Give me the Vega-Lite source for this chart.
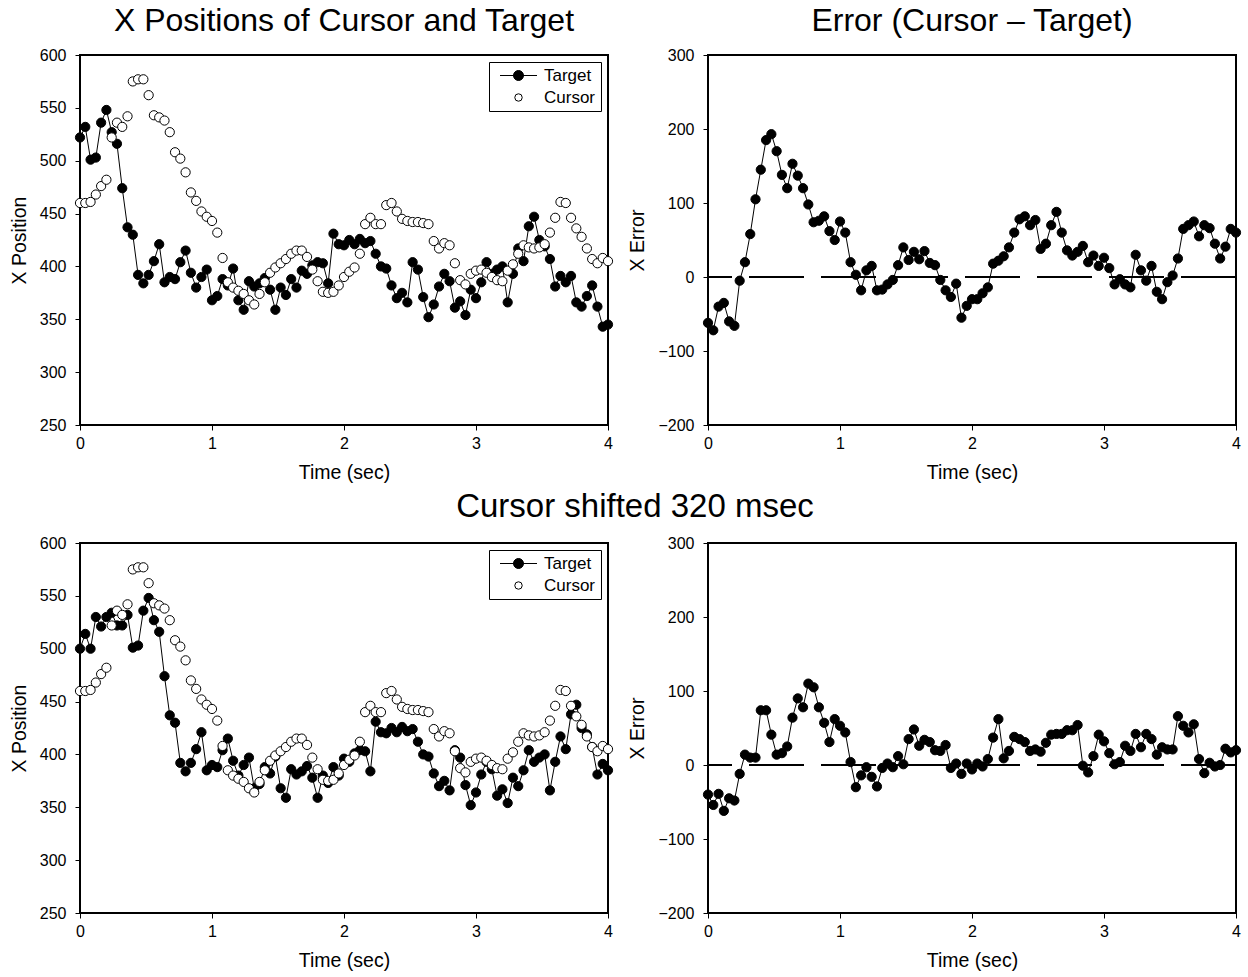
{
  "$schema": "https://vega.github.io/schema/vega-lite/v6.json",
  "padding": {"left": 8, "top": 4, "right": 5, "bottom": 5},
  "background": "white",
  "datasets": {
    "top": [
      {"t":0,"Target":522,"Cursor":460,"err":-62},{"t":0.04,"Target":532,"Cursor":460,"err":-72},{"t":0.08,"Target":501,"Cursor":461,"err":-40},{"t":0.12,"Target":503,"Cursor":468,"err":-35},{"t":0.16,"Target":536,"Cursor":476,"err":-60},{"t":0.2,"Target":548,"Cursor":482,"err":-66},{"t":0.24,"Target":527,"Cursor":522,"err":-5},{"t":0.28,"Target":516,"Cursor":536,"err":20},{"t":0.32,"Target":474,"Cursor":532,"err":58},{"t":0.36,"Target":437,"Cursor":542,"err":105},
      {"t":0.4,"Target":430,"Cursor":575,"err":145},{"t":0.44,"Target":392,"Cursor":577,"err":185},{"t":0.48,"Target":384,"Cursor":577,"err":193},{"t":0.52,"Target":392,"Cursor":562,"err":170},{"t":0.56,"Target":405,"Cursor":543,"err":138},{"t":0.6,"Target":421,"Cursor":541,"err":120},{"t":0.64,"Target":385,"Cursor":538,"err":153},{"t":0.68,"Target":390,"Cursor":527,"err":137},{"t":0.72,"Target":388,"Cursor":508,"err":120},{"t":0.76,"Target":404,"Cursor":502,"err":98},
      {"t":0.8,"Target":415,"Cursor":489,"err":74},{"t":0.84,"Target":394,"Cursor":470,"err":76},{"t":0.88,"Target":380,"Cursor":462,"err":82},{"t":0.92,"Target":390,"Cursor":452,"err":62},{"t":0.96,"Target":397,"Cursor":447,"err":50},{"t":1,"Target":368,"Cursor":443,"err":75},{"t":1.04,"Target":372,"Cursor":432,"err":60},{"t":1.08,"Target":388,"Cursor":408,"err":20},{"t":1.12,"Target":382,"Cursor":385,"err":3},{"t":1.16,"Target":398,"Cursor":380,"err":-18},
      {"t":1.2,"Target":368,"Cursor":377,"err":9},{"t":1.24,"Target":359,"Cursor":374,"err":15},{"t":1.28,"Target":386,"Cursor":368,"err":-18},{"t":1.32,"Target":381,"Cursor":364,"err":-17},{"t":1.36,"Target":384,"Cursor":374,"err":-10},{"t":1.4,"Target":389,"Cursor":385,"err":-4},{"t":1.44,"Target":378,"Cursor":394,"err":16},{"t":1.48,"Target":359,"Cursor":399,"err":40},{"t":1.52,"Target":380,"Cursor":403,"err":23},{"t":1.56,"Target":373,"Cursor":407,"err":34},
      {"t":1.6,"Target":388,"Cursor":412,"err":24},{"t":1.64,"Target":380,"Cursor":415,"err":35},{"t":1.68,"Target":396,"Cursor":415,"err":19},{"t":1.72,"Target":393,"Cursor":409,"err":16},{"t":1.76,"Target":401,"Cursor":397,"err":-4},{"t":1.8,"Target":404,"Cursor":386,"err":-18},{"t":1.84,"Target":403,"Cursor":376,"err":-27},{"t":1.88,"Target":384,"Cursor":375,"err":-9},{"t":1.92,"Target":431,"Cursor":376,"err":-55},{"t":1.96,"Target":421,"Cursor":382,"err":-39},
      {"t":2,"Target":420,"Cursor":390,"err":-30},{"t":2.04,"Target":425,"Cursor":395,"err":-30},{"t":2.08,"Target":421,"Cursor":399,"err":-22},{"t":2.12,"Target":426,"Cursor":412,"err":-14},{"t":2.16,"Target":422,"Cursor":440,"err":18},{"t":2.2,"Target":424,"Cursor":446,"err":22},{"t":2.24,"Target":412,"Cursor":440,"err":28},{"t":2.28,"Target":400,"Cursor":440,"err":40},{"t":2.32,"Target":398,"Cursor":458,"err":60},{"t":2.36,"Target":382,"Cursor":460,"err":78},
      {"t":2.4,"Target":370,"Cursor":452,"err":82},{"t":2.44,"Target":375,"Cursor":445,"err":70},{"t":2.48,"Target":366,"Cursor":443,"err":77},{"t":2.52,"Target":404,"Cursor":442,"err":38},{"t":2.56,"Target":397,"Cursor":442,"err":45},{"t":2.6,"Target":371,"Cursor":441,"err":70},{"t":2.64,"Target":352,"Cursor":440,"err":88},{"t":2.68,"Target":364,"Cursor":424,"err":60},{"t":2.72,"Target":381,"Cursor":417,"err":36},{"t":2.76,"Target":393,"Cursor":422,"err":29},
      {"t":2.8,"Target":386,"Cursor":420,"err":34},{"t":2.84,"Target":361,"Cursor":403,"err":42},{"t":2.88,"Target":367,"Cursor":387,"err":20},{"t":2.92,"Target":354,"Cursor":383,"err":29},{"t":2.96,"Target":378,"Cursor":393,"err":15},{"t":3,"Target":370,"Cursor":396,"err":26},{"t":3.04,"Target":385,"Cursor":397,"err":12},{"t":3.08,"Target":404,"Cursor":394,"err":-10},{"t":3.12,"Target":393,"Cursor":390,"err":-3},{"t":3.16,"Target":397,"Cursor":387,"err":-10},
      {"t":3.2,"Target":400,"Cursor":386,"err":-14},{"t":3.24,"Target":366,"Cursor":396,"err":30},{"t":3.28,"Target":393,"Cursor":402,"err":9},{"t":3.32,"Target":417,"Cursor":412,"err":-5},{"t":3.36,"Target":405,"Cursor":420,"err":15},{"t":3.4,"Target":438,"Cursor":418,"err":-20},{"t":3.44,"Target":447,"Cursor":417,"err":-30},{"t":3.48,"Target":425,"Cursor":418,"err":-7},{"t":3.52,"Target":419,"Cursor":421,"err":2},{"t":3.56,"Target":407,"Cursor":432,"err":25},
      {"t":3.6,"Target":381,"Cursor":446,"err":65},{"t":3.64,"Target":391,"Cursor":461,"err":70},{"t":3.68,"Target":385,"Cursor":460,"err":75},{"t":3.72,"Target":391,"Cursor":446,"err":55},{"t":3.76,"Target":366,"Cursor":436,"err":70},{"t":3.8,"Target":362,"Cursor":428,"err":66},{"t":3.84,"Target":372,"Cursor":417,"err":45},{"t":3.88,"Target":382,"Cursor":407,"err":25},{"t":3.92,"Target":362,"Cursor":403,"err":41},{"t":3.96,"Target":343,"Cursor":408,"err":65},
      {"t":4,"Target":345,"Cursor":405,"err":60}
    ],
    "shifted": [
      {"t":0,"Target":500,"Cursor":460,"err":-40},{"t":0.04,"Target":514,"Cursor":460,"err":-54},{"t":0.08,"Target":500,"Cursor":461,"err":-39},{"t":0.12,"Target":530,"Cursor":468,"err":-62},{"t":0.16,"Target":521,"Cursor":476,"err":-45},{"t":0.2,"Target":530,"Cursor":482,"err":-48},{"t":0.24,"Target":534,"Cursor":522,"err":-12},{"t":0.28,"Target":522,"Cursor":536,"err":14},{"t":0.32,"Target":522,"Cursor":532,"err":10},{"t":0.36,"Target":532,"Cursor":542,"err":10},
      {"t":0.4,"Target":501,"Cursor":575,"err":74},{"t":0.44,"Target":503,"Cursor":577,"err":74},{"t":0.48,"Target":536,"Cursor":577,"err":41},{"t":0.52,"Target":548,"Cursor":562,"err":14},{"t":0.56,"Target":527,"Cursor":543,"err":16},{"t":0.6,"Target":516,"Cursor":541,"err":25},{"t":0.64,"Target":474,"Cursor":538,"err":64},{"t":0.68,"Target":437,"Cursor":527,"err":90},{"t":0.72,"Target":430,"Cursor":508,"err":78},{"t":0.76,"Target":392,"Cursor":502,"err":110},
      {"t":0.8,"Target":384,"Cursor":489,"err":105},{"t":0.84,"Target":392,"Cursor":470,"err":78},{"t":0.88,"Target":405,"Cursor":462,"err":57},{"t":0.92,"Target":421,"Cursor":452,"err":31},{"t":0.96,"Target":385,"Cursor":447,"err":62},{"t":1,"Target":390,"Cursor":443,"err":53},{"t":1.04,"Target":388,"Cursor":432,"err":44},{"t":1.08,"Target":404,"Cursor":408,"err":4},{"t":1.12,"Target":415,"Cursor":385,"err":-30},{"t":1.16,"Target":394,"Cursor":380,"err":-14},
      {"t":1.2,"Target":380,"Cursor":377,"err":-3},{"t":1.24,"Target":390,"Cursor":374,"err":-16},{"t":1.28,"Target":397,"Cursor":368,"err":-29},{"t":1.32,"Target":368,"Cursor":364,"err":-4},{"t":1.36,"Target":372,"Cursor":374,"err":2},{"t":1.4,"Target":388,"Cursor":385,"err":-3},{"t":1.44,"Target":382,"Cursor":394,"err":12},{"t":1.48,"Target":398,"Cursor":399,"err":1},{"t":1.52,"Target":368,"Cursor":403,"err":35},{"t":1.56,"Target":359,"Cursor":407,"err":48},
      {"t":1.6,"Target":386,"Cursor":412,"err":26},{"t":1.64,"Target":381,"Cursor":415,"err":34},{"t":1.68,"Target":384,"Cursor":415,"err":31},{"t":1.72,"Target":389,"Cursor":409,"err":20},{"t":1.76,"Target":378,"Cursor":397,"err":19},{"t":1.8,"Target":359,"Cursor":386,"err":27},{"t":1.84,"Target":380,"Cursor":376,"err":-4},{"t":1.88,"Target":373,"Cursor":375,"err":2},{"t":1.92,"Target":388,"Cursor":376,"err":-12},{"t":1.96,"Target":380,"Cursor":382,"err":2},
      {"t":2,"Target":396,"Cursor":390,"err":-6},{"t":2.04,"Target":393,"Cursor":395,"err":2},{"t":2.08,"Target":401,"Cursor":399,"err":-2},{"t":2.12,"Target":404,"Cursor":412,"err":8},{"t":2.16,"Target":403,"Cursor":440,"err":37},{"t":2.2,"Target":384,"Cursor":446,"err":62},{"t":2.24,"Target":431,"Cursor":440,"err":9},{"t":2.28,"Target":421,"Cursor":440,"err":19},{"t":2.32,"Target":420,"Cursor":458,"err":38},{"t":2.36,"Target":425,"Cursor":460,"err":35},
      {"t":2.4,"Target":421,"Cursor":452,"err":31},{"t":2.44,"Target":426,"Cursor":445,"err":19},{"t":2.48,"Target":422,"Cursor":443,"err":21},{"t":2.52,"Target":424,"Cursor":442,"err":18},{"t":2.56,"Target":412,"Cursor":442,"err":30},{"t":2.6,"Target":400,"Cursor":441,"err":41},{"t":2.64,"Target":398,"Cursor":440,"err":42},{"t":2.68,"Target":382,"Cursor":424,"err":42},{"t":2.72,"Target":370,"Cursor":417,"err":47},{"t":2.76,"Target":375,"Cursor":422,"err":47},
      {"t":2.8,"Target":366,"Cursor":420,"err":54},{"t":2.84,"Target":404,"Cursor":403,"err":-1},{"t":2.88,"Target":397,"Cursor":387,"err":-10},{"t":2.92,"Target":371,"Cursor":383,"err":12},{"t":2.96,"Target":352,"Cursor":393,"err":41},{"t":3,"Target":364,"Cursor":396,"err":32},{"t":3.04,"Target":381,"Cursor":397,"err":16},{"t":3.08,"Target":393,"Cursor":394,"err":1},{"t":3.12,"Target":386,"Cursor":390,"err":4},{"t":3.16,"Target":361,"Cursor":387,"err":26},
      {"t":3.2,"Target":367,"Cursor":386,"err":19},{"t":3.24,"Target":354,"Cursor":396,"err":42},{"t":3.28,"Target":378,"Cursor":402,"err":24},{"t":3.32,"Target":370,"Cursor":412,"err":42},{"t":3.36,"Target":385,"Cursor":420,"err":35},{"t":3.4,"Target":404,"Cursor":418,"err":14},{"t":3.44,"Target":393,"Cursor":417,"err":24},{"t":3.48,"Target":397,"Cursor":418,"err":21},{"t":3.52,"Target":400,"Cursor":421,"err":21},{"t":3.56,"Target":366,"Cursor":432,"err":66},
      {"t":3.6,"Target":393,"Cursor":446,"err":53},{"t":3.64,"Target":417,"Cursor":461,"err":44},{"t":3.68,"Target":405,"Cursor":460,"err":55},{"t":3.72,"Target":438,"Cursor":446,"err":8},{"t":3.76,"Target":447,"Cursor":436,"err":-11},{"t":3.8,"Target":425,"Cursor":428,"err":3},{"t":3.84,"Target":419,"Cursor":417,"err":-2},{"t":3.88,"Target":407,"Cursor":407,"err":0},{"t":3.92,"Target":381,"Cursor":403,"err":22},{"t":3.96,"Target":391,"Cursor":408,"err":17},
      {"t":4,"Target":385,"Cursor":405,"err":20}
    ]
  },
  "vconcat": [
    {
      "hconcat": [
        {
          "width": 528, "height": 370,
          "title": {"text": "X Positions of Cursor and Target"},
          "data": {"name": "top"},
          "transform": [{"fold": ["Target", "Cursor"], "as": ["series", "x"]}],
          "layer": [
            {
              "transform": [{"filter": "datum.series === 'Target'"}],
              "mark": {"type": "line", "color": "black", "strokeWidth": 1},
              "encoding": {
                "x": {"field": "t", "type": "quantitative", "scale": {"domain": [0, 4], "nice": false}, "axis": {"title": "Time (sec)", "values": [0, 1, 2, 3, 4], "format": "d"}},
                "y": {"field": "x", "type": "quantitative", "scale": {"domain": [250, 600], "nice": false, "zero": false}, "axis": {"title": "X Position", "values": [250, 300, 350, 400, 450, 500, 550, 600]}}
              }
            },
            {
              "mark": {"type": "point", "filled": true, "stroke": "black", "strokeWidth": 1, "size": 85, "opacity": 1},
              "encoding": {
                "x": {"field": "t", "type": "quantitative"},
                "y": {"field": "x", "type": "quantitative"},
                "order": {"field": "series", "sort": "descending"},
                "fill": {"condition": {"test": "datum.series === 'Target'", "value": "black"}, "value": "white"}
              }
            },
            {
              "transform": [{"filter": "false"}],
              "mark": {"type": "point", "filled": true, "strokeWidth": 1, "opacity": 1},
              "encoding": {
                "x": {"field": "t", "type": "quantitative"},
                "y": {"field": "x", "type": "quantitative"},
                "fill": {"field": "series", "type": "nominal", "scale": {"domain": ["Target", "Cursor"], "range": ["black", "white"]}, "legend": {"title": null}},
                "stroke": {"field": "series", "type": "nominal", "scale": {"domain": ["Target", "Cursor"], "range": ["black", "black"]}, "legend": {"title": null}},
                "shape": {"field": "series", "type": "nominal", "scale": {"domain": ["Target", "Cursor"], "range": ["M-3.7,0L3.7,0M1,0A1,1,0,1,1,-1,0A1,1,0,1,1,1,0Z", "circle"]}, "legend": {"title": null}},
                "size": {"field": "series", "type": "nominal", "scale": {"domain": ["Target", "Cursor"], "range": [100, 55]}, "legend": {"title": null}}
              }
            }
          ]
        },
        {
          "width": 528, "height": 370,
          "title": {"text": "Error (Cursor – Target)"},
          "data": {"name": "top"},
          "layer": [
            {
              "mark": {"type": "rule", "color": "black", "strokeWidth": 1.5, "strokeDash": [55, 17]},
              "encoding": {"y": {"datum": 0, "type": "quantitative"}}
            },
            {
              "mark": {"type": "line", "color": "black", "strokeWidth": 1},
              "encoding": {
                "x": {"field": "t", "type": "quantitative", "scale": {"domain": [0, 4], "nice": false}, "axis": {"title": "Time (sec)", "values": [0, 1, 2, 3, 4], "format": "d"}},
                "y": {"field": "err", "type": "quantitative", "scale": {"domain": [-200, 300], "nice": false}, "axis": {"title": "X Error", "values": [-200, -100, 0, 100, 200, 300]}}
              }
            },
            {
              "mark": {"type": "point", "filled": true, "fill": "black", "stroke": "black", "strokeWidth": 1, "size": 85, "opacity": 1},
              "encoding": {
                "x": {"field": "t", "type": "quantitative"},
                "y": {"field": "err", "type": "quantitative"}
              }
            }
          ]
        }
      ],
      "spacing": 10,
      "resolve": {"scale": {"fill": "independent", "stroke": "independent", "shape": "independent", "size": "independent"}, "legend": {"fill": "independent", "stroke": "independent", "shape": "independent", "size": "independent"}}
    },
    {
      "title": {"text": "Cursor shifted 320 msec", "offset": 10, "fontSize": 33, "dx": 9},
      "hconcat": [
        {
          "width": 528, "height": 370,
          "data": {"name": "shifted"},
          "transform": [{"fold": ["Target", "Cursor"], "as": ["series", "x"]}],
          "layer": [
            {
              "transform": [{"filter": "datum.series === 'Target'"}],
              "mark": {"type": "line", "color": "black", "strokeWidth": 1},
              "encoding": {
                "x": {"field": "t", "type": "quantitative", "scale": {"domain": [0, 4], "nice": false}, "axis": {"title": "Time (sec)", "values": [0, 1, 2, 3, 4], "format": "d"}},
                "y": {"field": "x", "type": "quantitative", "scale": {"domain": [250, 600], "nice": false, "zero": false}, "axis": {"title": "X Position", "values": [250, 300, 350, 400, 450, 500, 550, 600]}}
              }
            },
            {
              "mark": {"type": "point", "filled": true, "stroke": "black", "strokeWidth": 1, "size": 85, "opacity": 1},
              "encoding": {
                "x": {"field": "t", "type": "quantitative"},
                "y": {"field": "x", "type": "quantitative"},
                "order": {"field": "series", "sort": "descending"},
                "fill": {"condition": {"test": "datum.series === 'Target'", "value": "black"}, "value": "white"}
              }
            },
            {
              "transform": [{"filter": "false"}],
              "mark": {"type": "point", "filled": true, "strokeWidth": 1, "opacity": 1},
              "encoding": {
                "x": {"field": "t", "type": "quantitative"},
                "y": {"field": "x", "type": "quantitative"},
                "fill": {"field": "series", "type": "nominal", "scale": {"domain": ["Target", "Cursor"], "range": ["black", "white"]}, "legend": {"title": null}},
                "stroke": {"field": "series", "type": "nominal", "scale": {"domain": ["Target", "Cursor"], "range": ["black", "black"]}, "legend": {"title": null}},
                "shape": {"field": "series", "type": "nominal", "scale": {"domain": ["Target", "Cursor"], "range": ["M-3.7,0L3.7,0M1,0A1,1,0,1,1,-1,0A1,1,0,1,1,1,0Z", "circle"]}, "legend": {"title": null}},
                "size": {"field": "series", "type": "nominal", "scale": {"domain": ["Target", "Cursor"], "range": [100, 55]}, "legend": {"title": null}}
              }
            }
          ]
        },
        {
          "width": 528, "height": 370,
          "data": {"name": "shifted"},
          "layer": [
            {
              "mark": {"type": "rule", "color": "black", "strokeWidth": 1.5, "strokeDash": [55, 17]},
              "encoding": {"y": {"datum": 0, "type": "quantitative"}}
            },
            {
              "mark": {"type": "line", "color": "black", "strokeWidth": 1},
              "encoding": {
                "x": {"field": "t", "type": "quantitative", "scale": {"domain": [0, 4], "nice": false}, "axis": {"title": "Time (sec)", "values": [0, 1, 2, 3, 4], "format": "d"}},
                "y": {"field": "err", "type": "quantitative", "scale": {"domain": [-200, 300], "nice": false}, "axis": {"title": "X Error", "values": [-200, -100, 0, 100, 200, 300]}}
              }
            },
            {
              "mark": {"type": "point", "filled": true, "fill": "black", "stroke": "black", "strokeWidth": 1, "size": 85, "opacity": 1},
              "encoding": {
                "x": {"field": "t", "type": "quantitative"},
                "y": {"field": "err", "type": "quantitative"}
              }
            }
          ]
        }
      ],
      "spacing": 10,
      "resolve": {"scale": {"fill": "independent", "stroke": "independent", "shape": "independent", "size": "independent"}, "legend": {"fill": "independent", "stroke": "independent", "shape": "independent", "size": "independent"}}
    }
  ],
  "spacing": 8,
  "resolve": {"scale": {"fill": "independent", "stroke": "independent", "shape": "independent", "size": "independent"}, "legend": {"fill": "independent", "stroke": "independent", "shape": "independent", "size": "independent"}},
  "config": {
    "font": "Liberation Sans",
    "view": {"stroke": "black", "strokeWidth": 2},
    "axis": {
      "grid": false, "domain": false, "tickColor": "black", "tickSize": 5, "tickWidth": 1,
      "labelColor": "black", "titleColor": "black", "labelFontSize": 16, "titleFontSize": 19.5,
      "titleFontWeight": "normal", "labelFont": "Liberation Sans", "titleFont": "Liberation Sans"
    },
    "axisX": {"labelPadding": 5, "titlePadding": 12, "labelFlush": false},
    "axisY": {"labelPadding": 9, "titlePadding": 10},
    "legend": {
      "orient": "top-right", "offset": 7,
      "strokeColor": "black", "fillColor": "white", "padding": 5,
      "labelFontSize": 17, "labelFont": "Liberation Sans", "labelColor": "black",
      "symbolStrokeWidth": 1,
      "symbolOffset": 16, "labelOffset": 17, "rowPadding": 4
    },
    "title": {"fontSize": 32, "fontWeight": "normal", "font": "Liberation Sans", "offset": 9, "color": "black", "anchor": "middle"}
  }
}
